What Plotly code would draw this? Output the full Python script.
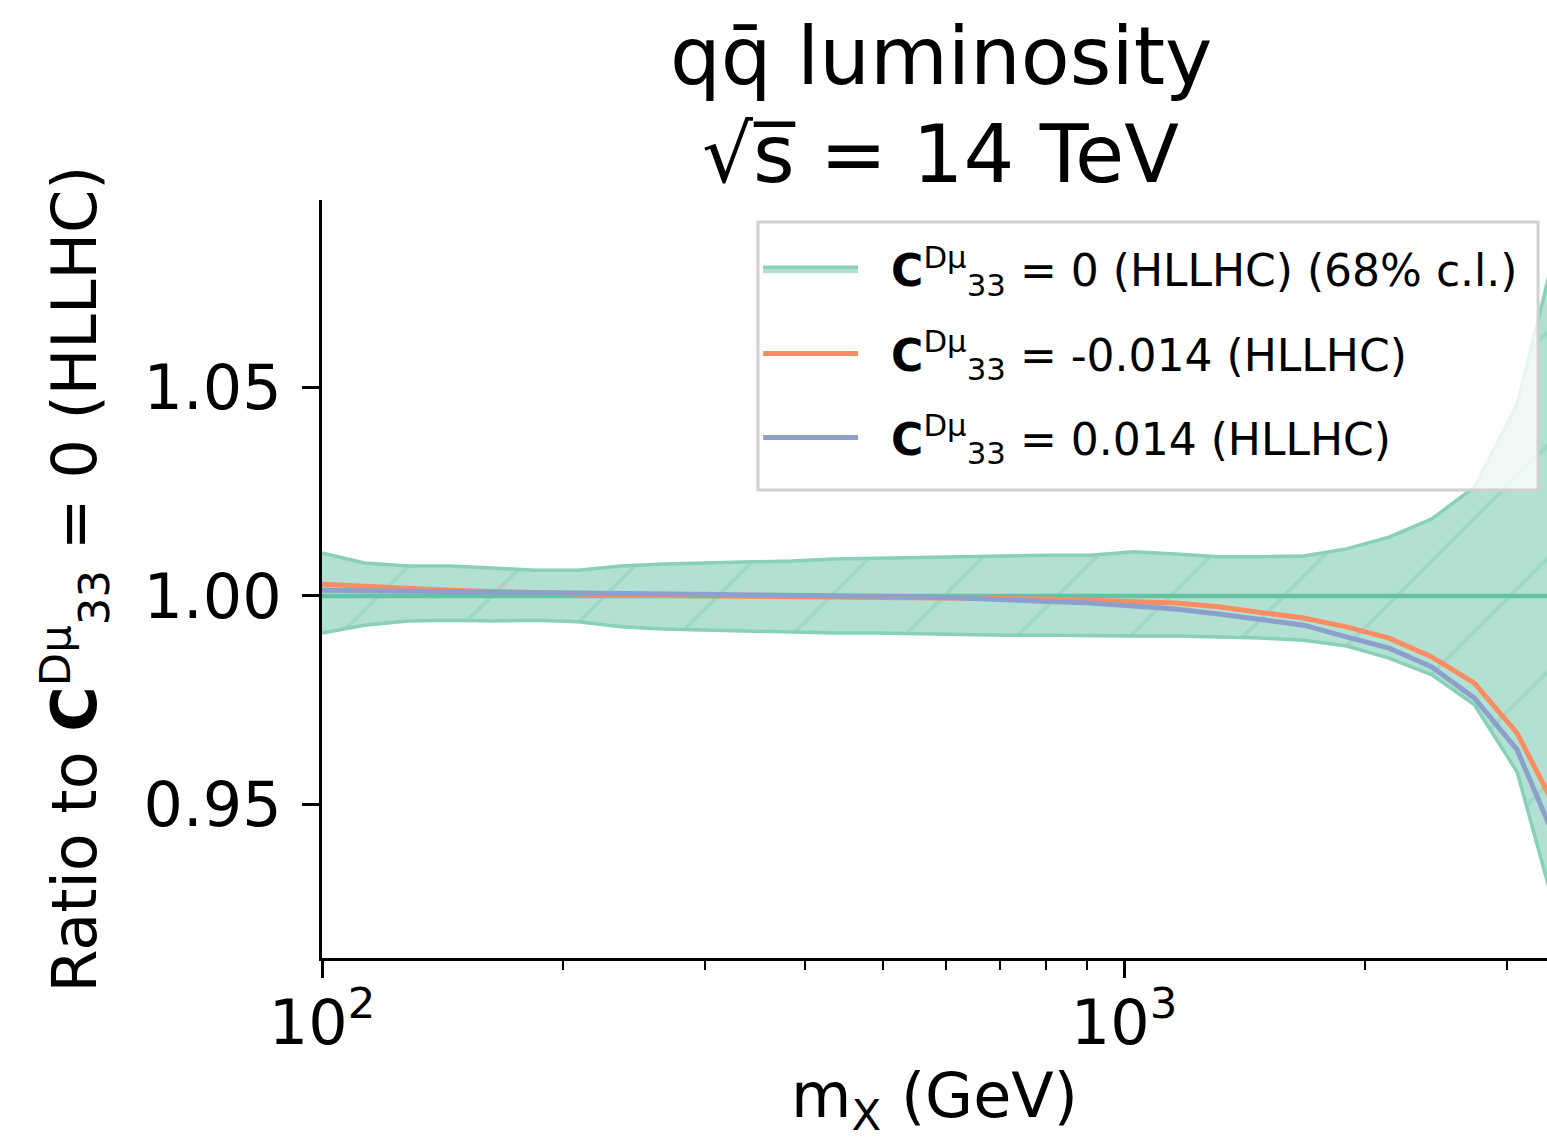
import plotly.graph_objects as go

# x grid (GeV)
mx = [100.0, 113.0, 127.8, 144.4, 163.3, 184.5, 208.6, 235.8, 266.5, 301.3,
      340.5, 384.9, 435.1, 491.8, 555.9, 628.4, 710.3, 802.9, 907.6, 1026.1,
      1159.9, 1311.1, 1482.0, 1675.2, 1893.6, 2140.5, 2419.6, 2735.0, 3091.6, 3494.7]

band_upper = [1.0103, 1.0079, 1.0072, 1.0072, 1.0067, 1.0062, 1.0062, 1.0072, 1.0077, 1.0079,
              1.0082, 1.0084, 1.0089, 1.0091, 1.0094, 1.0096, 1.0098, 1.0098, 1.0098, 1.0106,
              1.0101, 1.0094, 1.0094, 1.0096, 1.0113, 1.0141, 1.0185, 1.0261, 1.0460, 1.0873]
band_lower = [0.9911, 0.9930, 0.9940, 0.9942, 0.9940, 0.9942, 0.9938, 0.9926, 0.9921, 0.9918,
              0.9916, 0.9914, 0.9911, 0.9911, 0.9909, 0.9909, 0.9906, 0.9906, 0.9904, 0.9904,
              0.9904, 0.9902, 0.9899, 0.9894, 0.9880, 0.9851, 0.9811, 0.9739, 0.9578, 0.9206]
central = [1.0] * 30
ratio_neg = [1.0028, 1.0023, 1.0018, 1.0014, 1.0011, 1.0007, 1.0005, 1.0002, 1.0001, 1.0000,
             0.9999, 0.9998, 0.9998, 0.9998, 0.9996, 0.9995, 0.9994, 0.9993, 0.9990, 0.9988,
             0.9983, 0.9974, 0.9962, 0.9947, 0.9926, 0.9899, 0.9854, 0.9791, 0.9671, 0.9472]
ratio_pos = [1.0014, 1.0013, 1.0012, 1.0011, 1.0010, 1.0008, 1.0007, 1.0006, 1.0005, 1.0005,
             1.0004, 1.0002, 1.0001, 1.0000, 0.9998, 0.9995, 0.9992, 0.9988, 0.9983, 0.9976,
             0.9969, 0.9957, 0.9942, 0.9930, 0.9902, 0.9875, 0.9830, 0.9755, 0.9631, 0.9391]

C = "<b>C</b><sup>Dμ</sup><sub>33</sub>"
PAD = "\u00a0\u00a0"
names = [PAD + C + " = 0 (HLLHC) (68% c.l.)", PAD + C + " = -0.014 (HLLHC)", PAD + C + " = 0.014 (HLLHC)"]
title_lines = ["qq\u0304 luminosity", "\u221as\u0305 = 14 TeV"]

GREEN = "#66c2a5"
ORANGE = "#fc8d62"
BLUE = "#8da0cb"
EDGE = "#88d0b9"
FILL = "#b2e0d2"
FONT = "DejaVu Sans"

fig = go.Figure()
fig.add_trace(go.Scatter(x=mx, y=band_lower, mode="lines", legendgroup="g0",
                         line=dict(color=EDGE, width=3.5), showlegend=False, hoverinfo="skip"))
fig.add_trace(go.Scatter(x=mx, y=band_upper, mode="lines", fill="tonexty", legendgroup="g0",
                         line=dict(color=EDGE, width=3.5),
                         fillcolor=FILL,
                         fillpattern=dict(shape="/", fgcolor=EDGE, bgcolor=FILL,
                                          size=80, solidity=0.05),
                         name=names[0]))
fig.add_trace(go.Scatter(x=mx, y=central, mode="lines", legendgroup="g0",
                         line=dict(color=GREEN, width=4.5), showlegend=False))
fig.add_trace(go.Scatter(x=mx, y=ratio_neg, mode="lines", legendgroup="g1",
                         line=dict(color=ORANGE, width=5), name=names[1]))
fig.add_trace(go.Scatter(x=mx, y=ratio_pos, mode="lines", legendgroup="g2",
                         line=dict(color=BLUE, width=5), name=names[2]))

fig.update_layout(
    width=1547, height=1140,
    margin=dict(l=322, r=0, t=200, b=182, autoexpand=False),
    paper_bgcolor="white", plot_bgcolor="white",
    font=dict(family=FONT, size=62, color="black"),
    legend=dict(x=0.356, y=0.955, xanchor="left", yanchor="top",
                traceorder="grouped", tracegroupgap=24,
                bgcolor="rgba(0,0,0,0)", borderwidth=0,
                font=dict(family=FONT, size=44, color="black"),
                itemwidth=95),
    showlegend=True,
)

# legend frame (semi-transparent, like the reference)
fig.add_shape(type="rect", xref="paper", yref="paper",
              x0=0.3559, x1=0.9927, y0=0.6174, y1=0.971, layer="above",
              fillcolor="rgba(255,255,255,0.8)", line=dict(color="#d0d0d0", width=3))

for txt, yy in zip(title_lines, [1.1887, 1.0594]):
    fig.add_annotation(text=txt, xref="paper", yref="paper", x=0.505, y=yy,
                       xanchor="center", yanchor="middle", showarrow=False,
                       font=dict(family=FONT, size=80, color="black"))

fig.update_xaxes(type="log", range=[2, 3.5274],
                 showline=True, linecolor="black", linewidth=3, mirror=False,
                 showgrid=False, zeroline=False,
                 ticks="outside", ticklen=17, tickwidth=2.5, tickcolor="black",
                 tickvals=[100, 1000], ticktext=["10<sup>2</sup>", "10<sup>3</sup>"],
                 tickfont=dict(family=FONT, size=62), ticklabelstandoff=-8,
                 minor=dict(tickvals=[200, 300, 400, 500, 600, 700, 800, 900, 2000, 3000],
                            ticks="outside", ticklen=9, tickwidth=2, tickcolor="black"),
                 title=dict(text="m<sub>X</sub> (GeV)", font=dict(family=FONT, size=62), standoff=35))
fig.update_yaxes(range=[0.91319, 1.09496],
                 showline=True, linecolor="black", linewidth=3, mirror=False,
                 showgrid=False, zeroline=False,
                 ticks="outside", ticklen=17, tickwidth=2.5, tickcolor="black",
                 tickvals=[0.95, 1.0, 1.05], ticktext=["0.95", "1.00", "1.05"],
                 tickfont=dict(family=FONT, size=62), ticklabelstandoff=8,
                 title=dict(text="Ratio to " + C + " = 0 (HLLHC)",
                            font=dict(family=FONT, size=62), standoff=27))

# remove the page's default 8px body margin so the figure fills the window exactly
fig.write_html("out.html", config={"displayModeBar": False},
               post_script="document.body.style.margin='0';document.body.style.overflow='hidden';")
